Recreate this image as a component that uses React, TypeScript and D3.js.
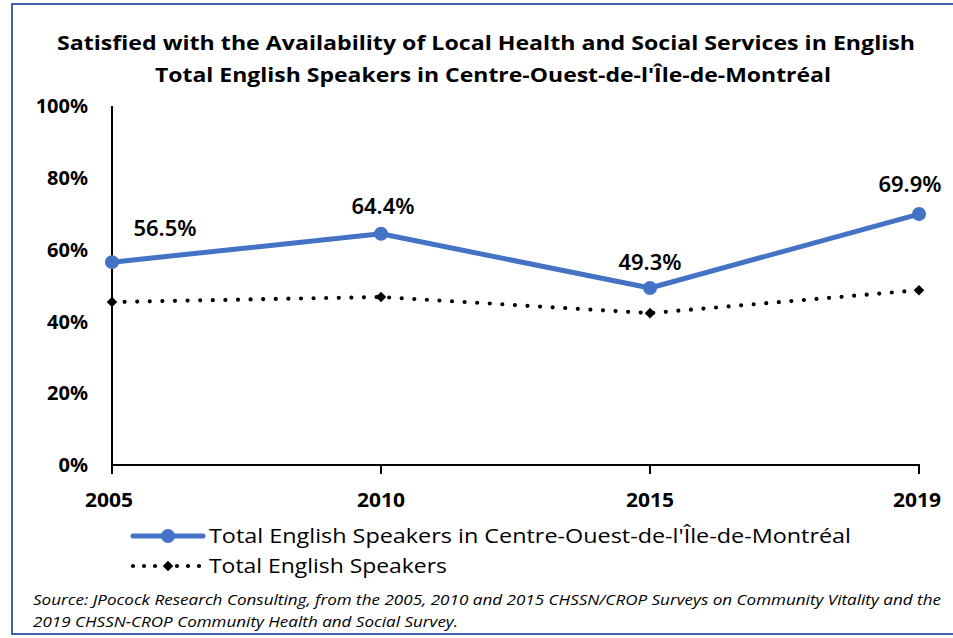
import React from "react";
import * as d3 from "d3";

const years = ["2005", "2010", "2015", "2019"];
const centreOuest = [0.565, 0.644, 0.493, 0.699];
const totalEnglish = [0.454, 0.468, 0.423, 0.487];
const centreLabels = ["56.5%", "64.4%", "49.3%", "69.9%"];
const yTicks = [0, 0.2, 0.4, 0.6, 0.8, 1.0];
const titleLines = [
  "Satisfied with the Availability of Local Health and Social Services in English",
  "Total English Speakers in Centre-Ouest-de-l'Île-de-Montréal",
];
const legendLabels = [
  "Total English Speakers in Centre-Ouest-de-l'Île-de-Montréal",
  "Total English Speakers",
];
const sourceLines = [
  "Source: JPocock Research Consulting, from the 2005, 2010  and 2015  CHSSN/CROP Surveys on Community Vitality and the",
  "2019  CHSSN-CROP Community Health and Social Survey.",
];

const W = 953;
const H = 638;
const BLUE = "#4472C4";
const FRAME = "#3F64AD";

export default function App() {
  const x = d3.scalePoint<string>().domain(years).range([112, 919]);
  const y = d3.scaleLinear().domain([0, 1]).range([465, 106]);

  const line = d3
    .line<number>()
    .x((_, i) => x(years[i]) as number)
    .y((d) => y(d));

  const diamond = d3.symbol().type(d3.symbolSquare).size(56)();

  const labelOffsets = [
    { dx: 53, dy: -34 },
    { dx: 2, dy: -28 },
    { dx: 0, dy: -26 },
    { dx: -9, dy: -30 },
  ];

  const titleFont = "'Open Sans', 'Noto Sans', sans-serif";

  return (
    <svg
      width={W}
      height={H}
      style={{ position: "absolute", left: 0, top: 0, background: "#fff" }}
      fontFamily={titleFont}
    >
      <rect x={0} y={0} width={W} height={H} fill="#fff" />
      {/* frame */}
      <path d={`M${W + 2},4 H12 V634 H${W + 2}`} fill="none" stroke={FRAME} strokeWidth={2} />

      {/* title */}
      <text x={486} y={50} textAnchor="middle" fontSize={20} fontWeight={700} fill="#000"
        textLength={858} lengthAdjust="spacingAndGlyphs">
        {titleLines[0]}
      </text>
      <text x={493} y={82} textAnchor="middle" fontSize={20} fontWeight={700} fill="#000"
        textLength={676} lengthAdjust="spacingAndGlyphs">
        {titleLines[1]}
      </text>

      {/* y tick labels */}
      {yTicks.map((t) => (
        <text key={t} x={88} y={y(t)} dy="0.36em" textAnchor="end" fontSize={20}
          fontWeight={700} fill="#000" fontFamily="'Noto Sans', sans-serif">
          {d3.format(".0%")(t)}
        </text>
      ))}

      {/* axes */}
      <line x1={112} x2={112} y1={106} y2={474} stroke="#000" strokeWidth={2} />
      <line x1={111} x2={920} y1={465} y2={465} stroke="#000" strokeWidth={2} />
      {years.map((yr) => (
        <line key={yr} x1={x(yr)} x2={x(yr)} y1={465} y2={474} stroke="#000" strokeWidth={2} />
      ))}
      {years.map((yr, i) => (
        <text key={yr} x={(x(yr) as number) + (i === 0 ? -3 : i === 3 ? -2 : 0)} y={507} textAnchor="middle" fontSize={19}
          fontWeight={700} fill="#000" textLength={48} lengthAdjust="spacingAndGlyphs">
          {yr}
        </text>
      ))}

      {/* dotted series */}
      <path d={line(totalEnglish) || ""} fill="none" stroke="#000" strokeWidth={4.2}
        strokeLinecap="round" strokeDasharray="0 12.6" />
      {totalEnglish.map((v, i) => (
        <path key={i} d={diamond || ""} transform={`translate(${x(years[i])},${y(v)}) rotate(45)`} fill="#000" />
      ))}

      {/* blue series */}
      <path d={line(centreOuest) || ""} fill="none" stroke={BLUE} strokeWidth={5} strokeLinejoin="round" />
      {centreOuest.map((v, i) => (
        <circle key={i} cx={x(years[i])} cy={y(v)} r={7} fill={BLUE} />
      ))}
      {centreOuest.map((v, i) => (
        <text key={i} x={(x(years[i]) as number) + labelOffsets[i].dx} y={y(v) + labelOffsets[i].dy}
          dy="0.36em" textAnchor="middle" fontSize={22} fontWeight={600} fill="#000"
          fontFamily="'Noto Sans', sans-serif">
          {centreLabels[i]}
        </text>
      ))}

      {/* legend */}
      <line x1={133} x2={203} y1={536} y2={536} stroke={BLUE} strokeWidth={5} strokeLinecap="round" />
      <circle cx={168} cy={536} r={7} fill={BLUE} />
      <text x={209} y={543} fontSize={20} fill="#000" textLength={642} lengthAdjust="spacingAndGlyphs">
        {legendLabels[0]}
      </text>
      <line x1={133} x2={203} y1={566} y2={566} stroke="#000" strokeWidth={4.2}
        strokeLinecap="round" strokeDasharray="0 11" />
      <path d={diamond || ""} transform="translate(168,566) rotate(45)" fill="#000" />
      <text x={209} y={573} fontSize={20} fill="#000" textLength={238} lengthAdjust="spacingAndGlyphs">
        {legendLabels[1]}
      </text>

      {/* source */}
      <text x={33} y={605} fontSize={14} fontStyle="italic" fill="#000" textLength={908}
        lengthAdjust="spacingAndGlyphs">
        {sourceLines[0]}
      </text>
      <text x={33} y={627} fontSize={14} fontStyle="italic" fill="#000" textLength={425}
        lengthAdjust="spacingAndGlyphs">
        {sourceLines[1]}
      </text>
    </svg>
  );
}
